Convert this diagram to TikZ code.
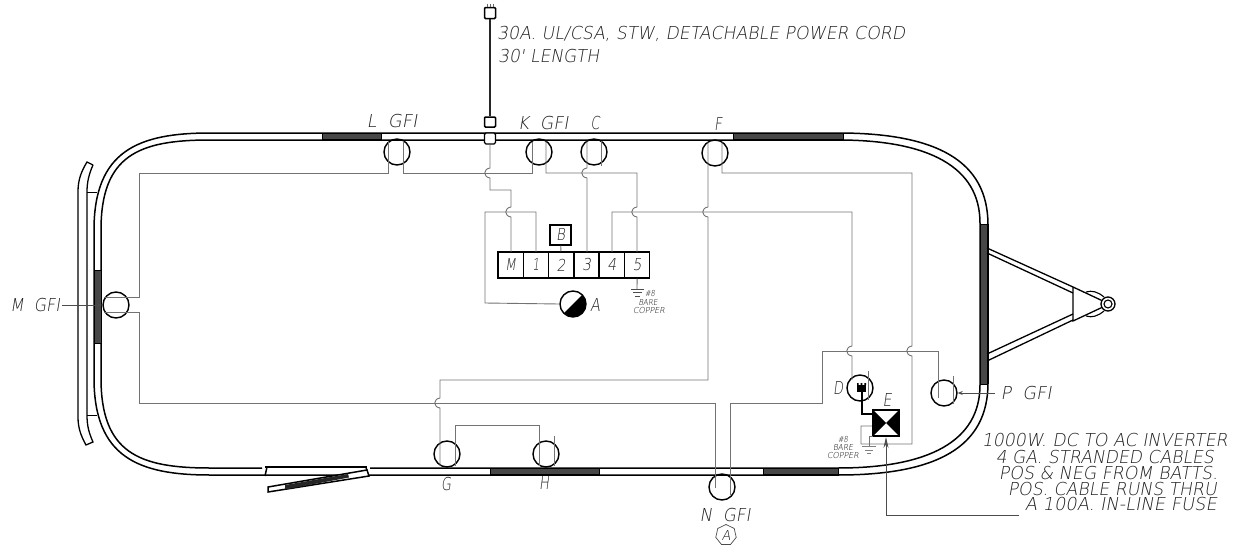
\documentclass[tikz,border=0pt]{standalone}
\usepackage{fontspec}
\usepackage{graphicx}
\usetikzlibrary{shapes.geometric,arrows.meta}
\newfontfamily\cadfont[FakeSlant=0.18]{DejaVu Sans ExtraLight}
\newcommand{\jv}[2]{-- (#1,#2-5) .. controls (#1-7,#2-4) and (#1-7,#2+4) .. (#1,#2+5)}
\newsavebox{\cadbox}
% \cadt[cap height]{width}{text}
\newcommand{\cadt}[3][13]{\sbox{\cadbox}{\cadfont\fontsize{17}{17}\selectfont #3}\pgfmathsetmacro{\cadsx}{#2/(\wd\cadbox/1pt)}\pgfmathsetmacro{\cadsy}{#1/12.4}\scalebox{\cadsx}[\cadsy]{\usebox{\cadbox}}}
\tikzset{
 wall/.style={line width=1.5pt,black},
 win/.style={fill=black!72,draw=black,line width=.8pt},
 wire/.style={line width=.9pt,black!55},
 recep/.style={circle,draw=black,line width=1.4pt,minimum size=26pt,inner sep=0pt},
 tag/.style={anchor=base,inner sep=0pt,text=black!88},
 cell/.style={draw=black,line width=1.4pt,minimum width=25.3pt,minimum height=26pt,inner sep=0pt,text=black!88},
 lead/.style={line width=.9pt,black!70},
 heavy/.style={line width=1.5pt,black},
}
\begin{document}
\begin{tikzpicture}[x=1pt,y=-1pt]
\useasboundingbox (0,0) rectangle (1235,546);
% shell
\draw[wall] (210,133) -- (838,133) .. controls (937,133) and (988,161) .. (988,225) -- (988,383) .. controls (988,447) and (937,475) .. (838,475) -- (367,475) (340,475) -- (210,475) .. controls (138,475) and (94,457) .. (94,378) -- (94,230) .. controls (94,151) and (138,133) .. (210,133);
\draw[wall] (210,140) -- (838,140) .. controls (929,140) and (980,167) .. (980,223) -- (980,385) .. controls (980,441) and (929,468) .. (838,468) -- (370,468) (262,468) -- (210,468) .. controls (139,468) and (101,453) .. (101,378) -- (101,230) .. controls (101,155) and (139,140) .. (210,140);
% windows
\filldraw[win] (322,133.5) rectangle (381,139.5);
\filldraw[win] (733,133.5) rectangle (843,139.5);
\filldraw[win] (490,468.5) rectangle (599,474.5);
\filldraw[win] (763,468.5) rectangle (838,474.5);
\filldraw[win] (94,270) rectangle (101,343);
\filldraw[win] (980,224) rectangle (987.5,384);
% door
\draw[heavy] (265,467) -- (367,467);
\draw[heavy] (267,467) -- (265,476) (366,467) -- (368,476);
\draw[heavy,fill=white] (367,470) -- (268,487) -- (268,492) -- (369,476) -- cycle;
\fill[black!85] (285,485) -- (348,474) -- (349,477.5) -- (285,489.5) -- cycle;
% bumper
\draw[line width=1.3pt,black] (93,165) -- (87,162) .. controls (81,172) and (78,180) .. (78,192) -- (78,417) .. controls (78,428) and (81,436) .. (86,445) -- (93,442) .. controls (89,433) and (87,426) .. (87,415) -- (87,192) .. controls (87,182) and (89,174) .. (93,165);
\draw[line width=1pt,black] (87,192) -- (97,192) (87,415) -- (97,415);
% hitch
\draw[line width=1.3pt,black] (987,248) -- (1073,287) (987,253) -- (1073,293) (987,354) -- (1073,314) (987,361) -- (1073,320);
\draw[line width=1.3pt,black] (1073,287) -- (1073,321) -- (1105,306) (1073,287) -- (1105,302);
\draw[line width=1.1pt,black] (1086,292) .. controls (1092,290) and (1098,292) .. (1104,297) (1086,316) .. controls (1092,318) and (1098,316) .. (1104,311);
\draw[line width=1.3pt,black,fill=white] (1108,304) circle (7) ;
\draw[line width=1.1pt,black] (1108,304) circle (4);
% power cord
\node[draw=black,line width=1.5pt,rounded corners=1pt,minimum width=11pt,minimum height=11pt,inner sep=0pt] (plug) at (490,13) {};
\node[draw=black,line width=1.5pt,rounded corners=1pt,minimum width=11pt,minimum height=10pt,inner sep=0pt] (cordend) at (490,122) {};
\node[draw=black,fill=white,line width=1.3pt,rounded corners=1.5pt,minimum width=11pt,minimum height=11pt,inner sep=0pt] (inlet) at (490,138.5) {};
\draw[line width=1.7pt,black!85] (plug) -- (cordend);
\draw[line width=.5pt,black!60] (487,7) -- (487,4) (490,7) -- (490,4) (493,7) -- (493,4);
% receptacles
\node[recep] (L) at (397,152) {};
\node[recep] (K) at (539,152) {};
\node[recep] (C) at (594,152) {};
\node[recep] (F) at (715,153) {};
\node[recep] (M) at (116,305) {};
\node[recep] (G) at (447,454) {};
\node[recep] (H) at (546,454) {};
\node[recep] (N) at (722,487) {};
\node[recep] (D) at (860,388) {};
\node[recep] (P) at (944,393) {};
% terminal strip
\node[cell] (tM) at (510.6,265) {\cadt[12]{11}{M}};
\node[cell] (t1) at (535.9,265) {\cadt[12]{7}{1}};
\node[cell] (t2) at (561.2,265) {\cadt[12]{9}{2}};
\node[cell] (t3) at (586.5,265) {\cadt[12]{9}{3}};
\node[cell] (t4) at (611.8,265) {\cadt[12]{9}{4}};
\node[cell] (t5) at (637.1,265) {\cadt[12]{9}{5}};
\node[draw=black,line width=1.4pt,minimum width=21pt,minimum height=20pt,inner sep=0pt,text=black!88] (B) at (560.5,235) {\cadt[12]{9}{B}};
\draw[wire] (B) -- (t2);
% lamp A
\begin{scope}
\clip (573,304) circle (13);
\fill[black] (560,317) -- (586,291) -- (586,317) -- cycle;
\end{scope}
\node[recep] (Alamp) at (573,304) {};
% wires
\draw[wire] (388,141) -- (388,173) -- (139,173) -- (139,297) -- (104,297);
\draw[wire] (104,312) -- (139,312) -- (139,403) -- (715,403) -- (715,488);
\draw[wire] (730,495) -- (730,403) -- (822,403) -- (822,351) -- (938,351) -- (938,398);
\draw[wire] (953,376) -- (953,404);
\draw[wire] (403,141) -- (403,173) -- (532,173) -- (532,142);
\draw[wire] (546,141) -- (546,173) -- (637,173) \jv{637}{212} -- (637,252);
\draw[wire] (inlet.south) \jv{490}{173} -- (490,190) -- (511,190) \jv{511}{212} -- (511,252);
\draw[wire] (536,252) -- (536,212) -- (485,212) -- (485,303) -- (Alamp.west);
\draw[wire] (587,141) \jv{587}{173} -- (587,252);
\draw[wire] (601,141) -- (601,166);
\draw[wire] (612,252) -- (612,212) -- (852,212) \jv{852}{351} -- (852,380);
\draw[wire] (708,142) \jv{708}{212} -- (708,380) -- (440,380) \jv{440}{403} -- (440,466);
\draw[wire] (722,142) -- (722,173) -- (912,173) \jv{912}{351} -- (912,444) -- (861,444) -- (861,426) -- (873,426);
\draw[wire] (455,466) -- (455,425) -- (539,425) -- (539,466);
\draw[wire] (554,436) -- (554,466);
\draw[wire] (868,371) -- (868,400);
% ground at strip
\draw[line width=.9pt,black!60] (t5.south) -- (637,289);
\draw[line width=.9pt,black!70] (631,289) -- (644,289) (633,292) -- (642,292) (635,296) -- (640,296);
% inverter E
\node[draw=black,line width=1.4pt,minimum size=26pt,inner sep=0pt] (E) at (886,423) {};
\fill[black] (E.north west) -- (E.center) -- (E.south west) -- cycle (E.north east) -- (E.center) -- (E.south east) -- cycle;
\draw[wire] (873,436) -- (869,436) -- (869,446);
\draw[line width=.9pt,black!50] (862,446) -- (876,446) (865,450) -- (873,450) (867,453) -- (871,453);
% plug in D
\fill[black] (857,385) rectangle (866,392);
\fill[black] (857,383) rectangle (858.6,385) (860.7,383) rectangle (862.3,385) (864.4,383) rectangle (866,385);
\draw[line width=1.7pt,black] (862,392) -- (862,414) -- (E.west |- 862,414);
% leaders
\coordinate (Eldr) at (1019,515);
\coordinate (Mldr) at (62,305);
\coordinate (Pldr) at (995,393);
\draw[lead,-{Stealth[length=11pt,width=5pt]}] (Eldr) -- (886,515) -- (886,437);
\draw[lead,-{Stealth[length=5pt,width=4pt]}] (Mldr) -- (M.west);
\draw[lead,-{Stealth[length=5pt,width=4pt]}] (Pldr) -- (P.east);
% labels
\node[tag,anchor=base west] (t30a) at (497,39) {\cadt{408}{30A. UL/CSA, STW, DETACHABLE POWER CORD}};
\node[tag,anchor=base west] (t30l) at (498,62) {\cadt{101}{30' LENGTH}};
\node[tag] (lL) at (392,127) {\cadt{51}{L\ \ GFI}};
\node[tag] (lK) at (543,129) {\cadt{51}{K\ \ GFI}};
\node[tag] (lC) at (595,129) {\cadt{9}{C}};
\node[tag] (lF) at (718,130) {\cadt{8}{F}};
\node[tag] (lM) at (35,311) {\cadt{50}{M\ \ GFI}};
\node[tag] (lP) at (1026,399) {\cadt{51}{P\ \ GFI}};
\node[tag] (lG) at (446,490) {\cadt{10}{G}};
\node[tag] (lH) at (544,489) {\cadt{10}{H}};
\node[tag] (lN) at (725,521) {\cadt{51}{N\ \ GFI}};
\node[regular polygon,regular polygon sides=7,draw=black!70,line width=.7pt,minimum size=21pt,inner sep=0pt,text=black!88] (lAh) at (726,535) {\cadt[10]{9}{A}};
\node[tag] (lD) at (838,394) {\cadt{10}{D}};
\node[tag] (lE) at (887,406) {\cadt{9}{E}};
\node[tag] (lA) at (595,311) {\cadt{10}{A}};
\node[tag,text=black] (g1a) at (650,296) {\cadt[6]{10}{\#8}};
\node[tag,text=black] (g1b) at (648,305) {\cadt[6]{19}{BARE}};
\node[tag,text=black] (g1c) at (649,313) {\cadt[6]{32}{COPPER}};
\node[tag,text=black] (g2a) at (843,442) {\cadt[6]{10}{\#8}};
\node[tag,text=black] (g2b) at (843,450) {\cadt[6]{20}{BARE}};
\node[tag,text=black] (g2c) at (843,458) {\cadt[6]{32}{COPPER}};
\node[tag,anchor=base east] (n1) at (1228,446) {\cadt{246}{1000W. DC TO AC INVERTER}};
\node[tag,anchor=base east] (n2) at (1214,463) {\cadt{218}{4 GA. STRANDED CABLES}};
\node[tag,anchor=base east] (n3) at (1218,479) {\cadt{219}{POS \& NEG FROM BATTS.}};
\node[tag,anchor=base east] (n4) at (1217,495) {\cadt{209}{POS. CABLE RUNS THRU}};
\node[tag,anchor=base east] (n5) at (1217,510) {\cadt{192}{A 100A. IN-LINE FUSE}};
\end{tikzpicture}
\end{document}
